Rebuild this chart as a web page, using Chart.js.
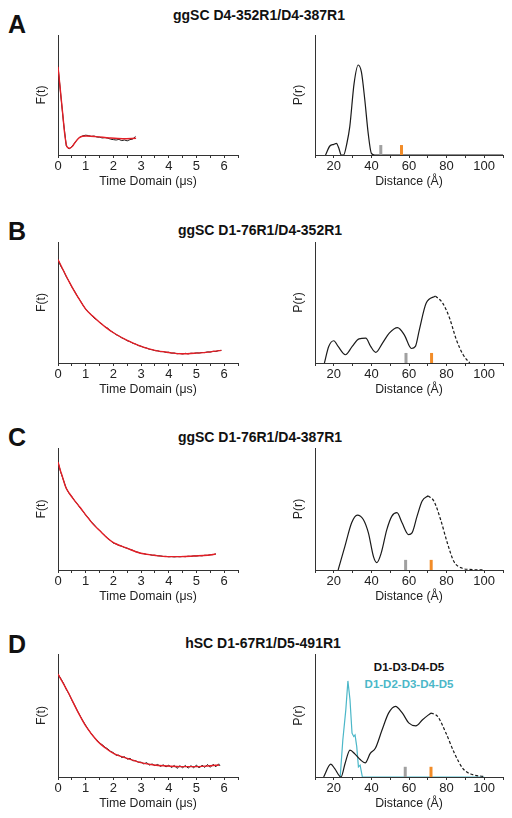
<!DOCTYPE html>
<html>
<head>
<meta charset="utf-8">
<script src="https://cdn.jsdelivr.net/npm/chart.js@4.4.1/dist/chart.umd.min.js"></script>
<style>
html,body{margin:0;padding:0;background:#fff;}
body{width:512px;height:818px;position:relative;overflow:hidden;font-family:'Liberation Sans',Arial,sans-serif;}
canvas{position:absolute;}
.t{position:absolute;white-space:nowrap;line-height:1;font-weight:bold;color:#111;}
.c{transform:translateX(-50%);}
</style>
</head>
<body>
<div class="t" style="left:8px;top:12px;font-size:25px;">A</div>
<div class="t" style="left:8px;top:219px;font-size:25px;">B</div>
<div class="t" style="left:8px;top:425px;font-size:25px;">C</div>
<div class="t" style="left:8px;top:632px;font-size:25px;">D</div>
<div class="t c" style="left:259px;top:8px;font-size:14px;">ggSC D4-352R1/D4-387R1</div>
<div class="t c" style="left:260px;top:223px;font-size:14px;">ggSC D1-76R1/D4-352R1</div>
<div class="t c" style="left:260px;top:430px;font-size:14px;">ggSC D1-76R1/D4-387R1</div>
<div class="t c" style="left:263px;top:636px;font-size:14px;">hSC D1-67R1/D5-491R1</div>
<div class="t c" style="left:409px;top:662px;font-size:11.5px;">D1-D3-D4-D5</div>
<div class="t c" style="left:409px;top:679px;font-size:11.5px;color:#4bb7c8;">D1-D2-D3-D4-D5</div>
<script>
// ---------- time-domain data (F(t)) ----------
const tA = [0,0.1,0.2,0.3,0.4,0.5,0.6,0.7,0.8,0.9,1.0,1.1,1.2,1.3,1.4,1.5,1.6,1.7,1.8,1.9,2.0,2.1,2.2,2.3,2.4,2.5,2.6,2.7,2.8];
const dataA = [0.74,0.50,0.27,0.075,0.05,0.07,0.10,0.13,0.15,0.16,0.165,0.162,0.155,0.158,0.15,0.148,0.142,0.145,0.14,0.132,0.128,0.125,0.13,0.12,0.125,0.118,0.128,0.133,0.155];
const fitTA = [0,0.06,0.12,0.18,0.24,0.32,0.42,0.52,0.62,0.78,1.02,1.38,1.86,2.34,2.82];
const fitA = [0.736,0.60,0.458,0.32,0.18,0.069,0.056,0.072,0.105,0.147,0.158,0.153,0.142,0.136,0.139];

const tB = [0,0.1,0.2,0.3,0.4,0.5,0.6,0.7,0.8,0.9,1.0,1.1,1.2,1.3,1.4,1.5,1.6,1.7,1.8,1.9,2.0,2.1,2.2,2.3,2.4,2.5,2.6,2.7,2.8,2.9,3.0,3.1,3.2,3.3,3.4,3.5,3.6,3.7,3.8,3.9,4.0,4.1,4.2,4.3,4.4,4.5,4.6,4.7,4.8,4.9,5.0,5.1,5.2,5.3,5.4,5.5,5.6,5.7,5.8,5.9];
const dataB = [0.855,0.80,0.762,0.713,0.674,0.628,0.592,0.551,0.517,0.478,0.445,0.418,0.398,0.371,0.357,0.334,0.32,0.298,0.287,0.265,0.252,0.234,0.224,0.208,0.198,0.184,0.177,0.163,0.157,0.144,0.139,0.128,0.124,0.113,0.11,0.102,0.101,0.094,0.094,0.088,0.089,0.081,0.083,0.076,0.079,0.074,0.08,0.075,0.081,0.079,0.084,0.082,0.087,0.086,0.092,0.09,0.097,0.095,0.103,0.104];
const fitTB = [0,0.2,0.4,0.6,0.8,1.0,1.25,1.5,1.75,2.0,2.5,3.0,3.5,4.0,4.5,5.0,5.5,5.9];
const fitB = [0.855,0.762,0.672,0.59,0.515,0.445,0.388,0.337,0.29,0.25,0.186,0.137,0.104,0.087,0.076,0.082,0.092,0.104];

const tC = [0,0.1,0.2,0.3,0.4,0.5,0.6,0.7,0.8,0.9,1.0,1.1,1.2,1.3,1.4,1.5,1.6,1.7,1.8,1.9,2.0,2.1,2.2,2.3,2.4,2.5,2.6,2.7,2.8,2.9,3.0,3.1,3.2,3.3,3.4,3.5,3.6,3.7,3.8,3.9,4.0,4.1,4.2,4.3,4.4,4.5,4.6,4.7,4.8,4.9,5.0,5.1,5.2,5.3,5.4,5.5,5.6,5.7];
const dataC = [0.885,0.80,0.735,0.668,0.628,0.602,0.568,0.541,0.508,0.481,0.45,0.426,0.396,0.373,0.346,0.326,0.3,0.281,0.258,0.241,0.22,0.213,0.201,0.196,0.184,0.179,0.168,0.162,0.15,0.145,0.135,0.134,0.127,0.127,0.121,0.121,0.116,0.116,0.111,0.112,0.108,0.11,0.107,0.11,0.108,0.111,0.109,0.113,0.111,0.116,0.114,0.118,0.116,0.121,0.12,0.125,0.126,0.132];
const fitTC = [0,0.08,0.157,0.277,0.42,0.578,0.8,1.0,1.25,1.54,1.8,2.02,2.5,2.99,3.47,3.95,4.43,4.92,5.4,5.7];
const fitC = [0.885,0.82,0.767,0.68,0.625,0.575,0.512,0.452,0.38,0.315,0.258,0.222,0.178,0.137,0.121,0.11,0.11,0.115,0.121,0.131];

const tD = [0,0.1,0.2,0.3,0.4,0.5,0.6,0.7,0.8,0.9,1.0,1.1,1.2,1.3,1.4,1.5,1.6,1.7,1.8,1.9,2.0,2.1,2.2,2.3,2.4,2.5,2.6,2.7,2.8,2.9,3.0,3.1,3.2,3.3,3.4,3.5,3.6,3.7,3.8,3.9,4.0,4.1,4.2,4.3,4.4,4.5,4.6,4.7,4.8,4.9,5.0,5.1,5.2,5.3,5.4,5.5,5.6,5.7,5.8,5.85];
const dataD = [0.837,0.80,0.762,0.712,0.674,0.626,0.584,0.538,0.497,0.456,0.42,0.383,0.354,0.322,0.302,0.275,0.262,0.242,0.228,0.208,0.198,0.176,0.178,0.158,0.165,0.145,0.152,0.132,0.133,0.12,0.121,0.106,0.117,0.097,0.106,0.092,0.102,0.086,0.099,0.082,0.096,0.077,0.094,0.07,0.092,0.075,0.094,0.072,0.092,0.075,0.097,0.073,0.096,0.078,0.102,0.079,0.103,0.083,0.107,0.09];
const fitTD = [0,0.337,0.699,1.0,1.42,1.7,2.02,2.5,2.99,3.47,3.95,4.43,4.92,5.4,5.82];
const fitD = [0.837,0.701,0.538,0.416,0.293,0.238,0.19,0.152,0.117,0.098,0.09,0.084,0.084,0.09,0.098];

// ---------- distance distributions (P(r)) ----------
const rA = [15.6,17.9,20,21.4,22.6,24,25.2,27,28.5,30.8,33,34.7,36.5,38.3,40,41.8,50,60,70,80,90,100,110];
const pA = [0,0.075,0.089,0.097,0.06,0,0,0.1,0.236,0.597,0.75,0.69,0.458,0.18,0.014,0,0,0,0,0,0,0,0];

const rB = [15,17.3,20,22.3,26.2,29.8,33.4,37,39.6,42.3,45.9,49.5,53.9,57.5,61.3,63.4,65.5,69.1,74.1];
const pB = [0,0.137,0.184,0.137,0.068,0.137,0.2,0.205,0.137,0.088,0.164,0.247,0.293,0.233,0.12,0.137,0.274,0.493,0.553];
const rBd = [74.1,78,81.6,85.2,88.8,92.3];
const pBd = [0.553,0.493,0.37,0.192,0.068,0];

const rC = [22.3,25.9,29.5,32.5,35.7,38.4,41.1,42.9,45.2,48.2,50.9,53.6,56.3,59.8,61.6,64.3,67,70.2];
const pC = [0,0.193,0.387,0.45,0.414,0.304,0.11,0.061,0.138,0.331,0.442,0.47,0.387,0.29,0.304,0.442,0.566,0.608];
const rCd = [70.2,73.2,76.8,80.4,83.9,88.4,92,100];
const pCd = [0.608,0.566,0.414,0.221,0.069,0.014,0.005,0];

const rD = [14.6,18.4,20.5,23.8,26,28.6,31.3,34,36.7,39.4,42.1,45.7,49.2,52.8,56.4,60,63.6,67.2,71.7];
const pD = [0,0.104,0.068,0,0.11,0.219,0.186,0.142,0.115,0.192,0.233,0.384,0.521,0.575,0.521,0.438,0.416,0.466,0.521];
const rDd = [71.7,75.2,79.7,84.2,88.7,93.2,99.5];
const pDd = [0.521,0.493,0.356,0.192,0.068,0.022,0.005];
const rDc = [23.4,24.8,26.4,27.5,28.6,29.7,30.6,31.3,32.2,33.1,34,35.2,50,70,90,100];
const pDc = [0,0.301,0.548,0.781,0.63,0.356,0.329,0.342,0.247,0.082,0.096,0,0,0,0,0];

// model-distance markers (gray, orange)
const markA = [45, 56];
const markB = [58.4, 72];
const markC = [58.2, 71.8];
const markD = [58, 71.7];
const markH = 0.083;

// ---------- tick labels ----------
const timeLabels = [0,1,2,3,4,5,6];
const distLabels = [20,40,60,80,100];

// ---------- rendering ----------
const FONT = "'Liberation Sans', Arial, sans-serif";
Chart.defaults.font.family = FONT;
Chart.defaults.color = '#222';
const RED = '#e41e26', BLK = '#1a1a1a', CYAN = '#4bb7c8', ORANGE = '#f28c28', GRAY = '#a0a0a0', AX = '#333';

const pts = (xs, ys) => xs.map((x, i) => ({x, y: ys[i]}));
const markerSets = (m) => [
  {data: [{x: m[0], y: 0}, {x: m[0], y: markH}], borderColor: GRAY, borderWidth: 3, borderCapStyle: 'butt', order: 0},
  {data: [{x: m[1], y: 0}, {x: m[1], y: markH}], borderColor: ORANGE, borderWidth: 3, borderCapStyle: 'butt', order: 0}
];

function makeChart(left, top, width, height, padRight, kind, ytitle, datasets) {
  const cv = document.createElement('canvas');
  cv.width = width; cv.height = height;
  cv.style.left = left + 'px'; cv.style.top = top + 'px';
  cv.style.width = width + 'px'; cv.style.height = height + 'px';
  document.body.appendChild(cv);
  const isTime = kind === 'time';
  const labels = isTime ? timeLabels : distLabels;
  new Chart(cv.getContext('2d'), {
    type: 'line',
    data: {datasets: datasets.map(d => Object.assign({pointRadius: 0, fill: false, tension: 0}, d))},
    options: {
      responsive: false, animation: false, devicePixelRatio: 1,
      layout: {padding: {top: 4, right: padRight, bottom: 0, left: 0}},
      plugins: {legend: {display: false}, tooltip: {enabled: false}},
      scales: {
        x: {
          type: 'linear',
          min: isTime ? 0 : 10, max: isTime ? 6.5 : 110,
          afterFit: s => { s.height = 34; },
          grid: {display: true, drawOnChartArea: false, drawTicks: true, tickLength: 3, color: AX},
          border: {display: true, color: AX, width: 1},
          ticks: {stepSize: isTime ? 0.5 : 10, autoSkip: false, maxRotation: 0, padding: 1,
                  font: {size: 13}, color: '#222',
                  callback: v => labels.includes(v) ? String(v) : ''},
          title: {display: true, text: isTime ? 'Time Domain (μs)' : 'Distance (Å)',
                  font: {size: 12.3}, color: '#222', padding: {top: 0, bottom: 0}}
        },
        y: {
          min: 0, max: 1,
          afterFit: s => { s.width = 38; },
          grid: {display: false},
          border: {display: true, color: AX, width: 1},
          ticks: {display: false},
          title: {display: true, text: ytitle, font: {size: 12.3}, color: '#222', padding: {top: 14, bottom: 0}}
        }
      }
    }
  });
}

const fitLine = (xs, ys) => ({data: pts(xs, ys), borderColor: RED, borderWidth: 1.4, cubicInterpolationMode: 'monotone', order: 0});
const rawLine = (xs, ys) => ({data: pts(xs, ys), borderColor: BLK, borderWidth: 1, order: 1});
const solid = (xs, ys) => ({data: pts(xs, ys), borderColor: BLK, borderWidth: 1.2, cubicInterpolationMode: 'monotone', order: 1});
const dashed = (xs, ys) => ({data: pts(xs, ys), borderColor: BLK, borderWidth: 1.2, borderDash: [3, 2], cubicInterpolationMode: 'monotone', order: 1});

const rows = [
  {top: 35, h: 120},
  {top: 242, h: 121},
  {top: 448, h: 122},
  {top: 654, h: 123}
];

// Left column: F(t)
const leftSets = [
  [fitLine(fitTA, fitA), rawLine(tA, dataA)],
  [fitLine(fitTB, fitB), rawLine(tB, dataB)],
  [fitLine(fitTC, fitC), rawLine(tC, dataC)],
  [fitLine(fitTD, fitD), rawLine(tD, dataD)]
];
// Right column: P(r)
const rightSets = [
  [solid(rA, pA), ...markerSets(markA)],
  [solid(rB, pB), dashed(rBd, pBd), ...markerSets(markB)],
  [solid(rC, pC), dashed(rCd, pCd), ...markerSets(markC)],
  [{data: pts(rDc, pDc), borderColor: CYAN, borderWidth: 1.2, order: 2}, solid(rD, pD), dashed(rDd, pDd), ...markerSets(markD)]
];

rows.forEach((r, i) => {
  const H = 4 + r.h + 34;
  makeChart(20, r.top - 4, 228, H, 10, 'time', 'F(t)', leftSets[i]);
  makeChart(277, r.top - 4, 234, H, 8, 'dist', 'P(r)', rightSets[i]);
});
</script>
</body>
</html>
